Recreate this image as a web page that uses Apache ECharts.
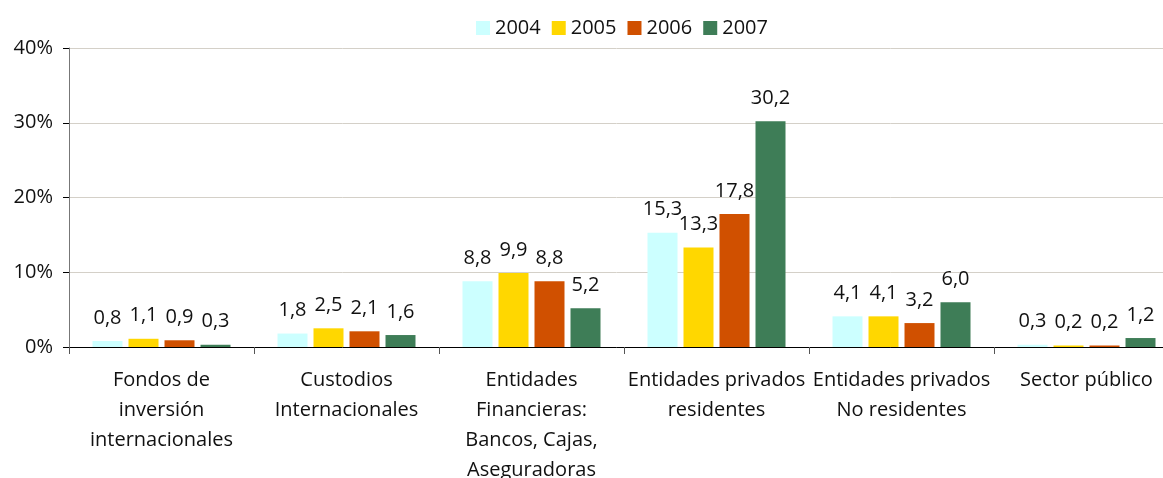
<!DOCTYPE html>
<html>
<head>
<meta charset="utf-8">
<script src="https://cdn.jsdelivr.net/npm/echarts@6/dist/echarts.min.js"></script>
<style>
  html, body { margin: 0; padding: 0; background: #fff; }
  #chart { width: 1163px; height: 478px; }
</style>
</head>
<body>
<div id="chart"></div>
<script>
const categories = [
  'Fondos de\ninversión\ninternacionales',
  'Custodios\nInternacionales',
  'Entidades\nFinancieras:\nBancos, Cajas,\nAseguradoras',
  'Entidades privados\nresidentes',
  'Entidades privados\nNo residentes',
  'Sector público'
]
const years = ['2004', '2005', '2006', '2007']
const v2004 = [0.8, 1.8, 8.8, 15.3, 4.1, 0.3]
const v2005 = [1.1, 2.5, 9.9, 13.3, 4.1, 0.2]
const v2006 = [0.9, 2.1, 8.8, 17.8, 3.2, 0.2]
const v2007 = [0.3, 1.6, 5.2, 30.2, 6.0, 1.2]
const colors = ['#ccffff', '#ffd700', '#d05000', '#3e7d57']

const font = '"Open Sans", "Noto Sans", sans-serif'
const chart = echarts.init(document.getElementById('chart'))

const seriesData = [v2004, v2005, v2006, v2007]

chart.setOption({
  animation: false,
  color: colors,
  textStyle: { fontFamily: font },
  legend: {
    top: 13,
    left: 471,
    itemWidth: 14,
    itemHeight: 14,
    itemGap: 11,
    icon: 'rect',
    textStyle: { fontSize: 20, color: '#111', fontFamily: font }
  },
  grid: {
    left: 69,
    top: 48,
    width: 1110,
    height: 299,
    outerBoundsMode: 'none'
  },
  xAxis: {
    type: 'category',
    data: categories,
    axisLine: { lineStyle: { color: '#000', width: 1 } },
    axisTick: { show: true, length: 7, lineStyle: { color: '#555' } },
    axisLabel: {
      interval: 0,
      fontSize: 20,
      color: '#111',
      lineHeight: 30,
      margin: 18,
      fontFamily: font
    }
  },
  yAxis: {
    type: 'value',
    min: 0,
    max: 40,
    interval: 10,
    axisLine: { show: true, lineStyle: { color: '#777' } },
    axisTick: { show: true, length: 6, lineStyle: { color: '#000' } },
    splitLine: { lineStyle: { color: '#d4d0c8' } },
    axisLabel: {
      formatter: '{value}%',
      fontSize: 20,
      color: '#111',
      margin: 16,
      fontFamily: font
    }
  },
  series: years.map((y, i) => ({
    name: y,
    type: 'bar',
    data: seriesData[i],
    barWidth: 30,
    barGap: '20%',
    label: {
      show: true,
      position: 'top',
      distance: 13,
      fontSize: 20,
      color: '#111',
      fontFamily: font,
      formatter: p => p.value.toFixed(1).replace('.', ',')
    }
  }))
})
</script>
</body>
</html>
